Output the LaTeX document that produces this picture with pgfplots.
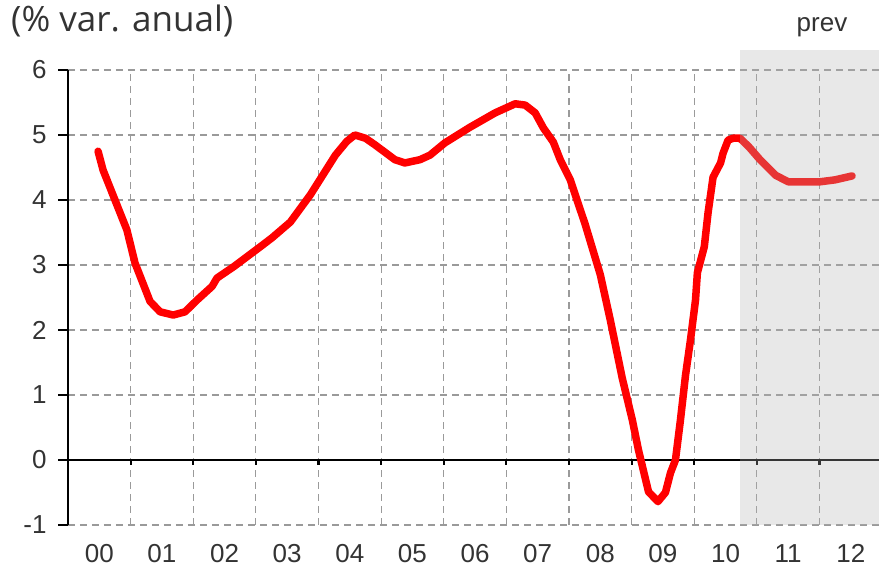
\documentclass[border=0pt]{standalone}
\usepackage{pgfplots}
\pgfplotsset{compat=1.18}
\usepackage{fontspec}
\setmainfont{Liberation Sans}
\newfontfamily\titlefont{Open Sans}
\definecolor{txt}{HTML}{333333}
\definecolor{gridc}{HTML}{9A9A9A}
\definecolor{linered}{HTML}{FF0000}

% x = years since 2000
\pgfplotstableread{
x y
0.48 4.75
0.56 4.46
0.75 4.00
0.94 3.54
1.07 3.03
1.31 2.44
1.47 2.28
1.68 2.23
1.87 2.28
2.06 2.46
2.30 2.67
2.38 2.80
2.64 2.97
3.07 3.28
3.26 3.42
3.55 3.66
3.87 4.08
4.27 4.69
4.45 4.90
4.58 5.00
4.75 4.95
4.90 4.85
5.22 4.62
5.38 4.57
5.62 4.62
5.78 4.69
6.02 4.88
6.42 5.12
6.82 5.34
7.14 5.48
7.30 5.46
7.46 5.34
7.59 5.11
7.75 4.89
7.86 4.62
8.02 4.31
8.26 3.62
8.50 2.85
8.66 2.15
8.85 1.26
9.01 0.62
9.11 0.15
9.27 -0.49
9.42 -0.64
9.54 -0.50
9.62 -0.20
9.70 0.00
9.78 0.62
9.86 1.30
9.94 1.85
10.02 2.46
10.05 2.88
10.16 3.28
10.22 3.80
10.30 4.35
10.42 4.57
10.46 4.72
10.54 4.92
10.62 4.95
10.73 4.95
10.87 4.82
11.05 4.62
11.30 4.38
11.50 4.28
12.01 4.28
12.25 4.31
12.52 4.37
}\gdpdata

\begin{document}
\begin{tikzpicture}
\begin{axis}[
  scale only axis,
  width=811pt, height=455pt,
  xmin=0, xmax=12.95,
  ymin=-1, ymax=6,
  clip=false,
  axis y line*=left,
  axis x line*=bottom,
  x axis line style={draw=none},
  y axis line style={line width=2.8pt, black, -},
  ytick={-1,0,1,2,3,4,5,6},
  xtick={0.5,1.5,2.5,3.5,4.5,5.5,6.5,7.5,8.5,9.5,10.5,11.5,12.5},
  xticklabels={00,01,02,03,04,05,06,07,08,09,10,11,12},
  minor xtick={1,2,3,4,5,6,7,8,9,10,11,12},
  xminorgrids=true, xmajorgrids=false, ymajorgrids=true,
  major grid style={gridc, line width=1.2pt, dash pattern=on 7pt off 5pt},
  minor grid style={gridc, line width=1.2pt, dash pattern=on 7pt off 5pt},
  major x tick style={draw=none},
  minor x tick style={draw=none},
  tick align=outside,
  major tick length=10pt,
  ytick style={line width=2.8pt, black},
  ticklabel style={font=\fontsize{26}{30}\selectfont, text=txt},
  yticklabel style={xshift=-8pt},
  xticklabel style={yshift=-6pt},
  /pgf/number format/assume math mode=true,
]
\coordinate (tl) at (rel axis cs:0,1);
\coordinate (br) at (rel axis cs:1,0);
\draw[black, line width=2.8pt] (axis cs:0,0) -- (axis cs:12.95,0);
\pgfplotsinvokeforeach{0,1,2,3,4,5,6,7,8,9,10,11,12}{
  \draw[black, line width=2.2pt] (axis cs:#1,0) -- ([yshift=-5pt]axis cs:#1,0);
}
\addplot[linered, line width=7.5pt, line join=round, line cap=round, mark=none] table[x=x,y=y] {\gdpdata};
\fill[gray!60, fill opacity=0.3] (axis cs:10.73,-1) rectangle (axis cs:12.95,6.31);
\node[font=\fontsize{26}{30}\selectfont, text=txt, inner sep=0pt] at (axis cs:12.04,6.66) {prev};
\end{axis}
\node[anchor=west, inner sep=0pt, font=\titlefont\fontsize{35}{40}\selectfont, text=txt, xshift=-57pt, yshift=49pt] at (tl) {(\% var. anual)};
\pgfresetboundingbox
\path ([shift={(-68pt,70pt)}]tl) rectangle ([shift={(0pt,-43pt)}]br);
\end{tikzpicture}
\end{document}
